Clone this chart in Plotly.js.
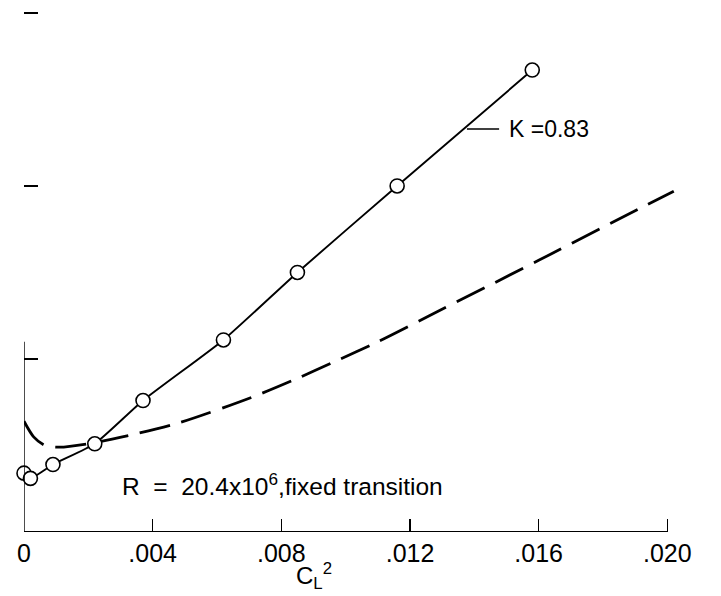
<!DOCTYPE html>
<html>
<head>
<meta charset="utf-8">
<script src="https://cdn.plot.ly/plotly-3.0.1.min.js"></script>
<style>
  html, body { margin: 0; padding: 0; background: #fff; }
  #chart { width: 721px; height: 596px; }
</style>
</head>
<body>
<div id="chart"></div>
<script>
// Measured points (circles) joined by the solid K = 0.83 curve
const cl2Test  = [0.0000, 0.0002, 0.0009, 0.0022, 0.0037, 0.0062, 0.0085, 0.0116, 0.0158];
const dragTest = [0.34, 0.31, 0.39, 0.51, 0.76, 1.11, 1.50, 2.00, 2.67];

// Dashed reference curve
const cl2Ref  = [0.0000, 0.0003, 0.00065, 0.0011, 0.0020, 0.0033, 0.0048, 0.0071, 0.0084, 0.0096, 0.0110, 0.0126, 0.0160, 0.0183, 0.0202];
const dragRef = [0.64, 0.55, 0.50, 0.49, 0.51, 0.56, 0.63, 0.78, 0.88, 0.98, 1.10, 1.25, 1.57, 1.79, 1.97];

// Axis ticks
const xTickVals = [0, 0.004, 0.008, 0.012, 0.016, 0.020];
const xTickText = ['0', '.004', '.008', '.012', '.016', '.020'];
const yTickVals = [1, 2, 3];

const FONT = 'Liberation Sans, Arial, sans-serif';

const traces = [
  {
    x: cl2Ref, y: dragRef,
    mode: 'lines',
    line: { color: '#000', width: 2.8, dash: '31px,12px', shape: 'spline', smoothing: 0.8 },
    hoverinfo: 'skip'
  },
  {
    x: cl2Test, y: dragTest,
    mode: 'lines+markers',
    line: { color: '#000', width: 1.9, shape: 'spline', smoothing: 0.5 },
    marker: { symbol: 'circle', size: 14, color: '#fff', line: { color: '#000', width: 1.6 } },
    cliponaxis: false,
    hoverinfo: 'skip'
  }
];

const layout = {
  width: 721, height: 596,
  margin: { l: 24, r: 44, t: 10, b: 64 },
  paper_bgcolor: '#fff', plot_bgcolor: '#fff',
  showlegend: false,
  font: { family: FONT, color: '#000' },
  xaxis: {
    range: [0, 0.0203],
    showgrid: false, zeroline: false, showline: false,
    tickmode: 'array', tickvals: xTickVals, ticktext: xTickText,
    ticks: 'inside', ticklen: 13, tickwidth: 1.6, tickcolor: '#000',
    tickfont: { family: FONT, size: 25, color: '#000' },
    ticklabelstandoff: 4
  },
  yaxis: {
    range: [0, 3.017],
    showgrid: false, zeroline: false, showline: false,
    tickmode: 'array', tickvals: yTickVals,
    showticklabels: false,
    ticks: 'inside', ticklen: 14, tickwidth: 2, tickcolor: '#000'
  },
  shapes: [
    // x axis line, ending at .020
    { type: 'line', xref: 'x', yref: 'y', x0: 0, x1: 0.020, y0: 0, y1: 0,
      line: { color: '#000', width: 1.8 } },
    // lower part of the y axis line
    { type: 'line', xref: 'x', yref: 'y', x0: 0, x1: 0, y0: 0, y1: 1.10,
      line: { color: '#000', width: 1.4 } },
    // leader line to the K label
    { type: 'line', xref: 'x', yref: 'y', x0: 0.01377, x1: 0.01477, y0: 2.329, y1: 2.329,
      line: { color: '#000', width: 1.4 } }
  ],
  annotations: [
    { xref: 'x', yref: 'y', x: 0.01502, y: 2.329, xanchor: 'left', yanchor: 'middle',
      text: 'K =0.83', showarrow: false, font: { family: FONT, size: 23, color: '#000' } },
    { xref: 'x', yref: 'y', x: 0.00298, y: 0.277, xanchor: 'left', yanchor: 'middle',
      text: 'R  =  20.4x10<sup>6</sup>,fixed transition', showarrow: false,
      font: { family: FONT, size: 24.5, color: '#000' } },
    { xref: 'x', yref: 'paper', x: 0.0090, y: 0, xanchor: 'center', yanchor: 'top', yshift: -25,
      text: 'C<sub>L</sub><sup>2</sup>', showarrow: false,
      font: { family: FONT, size: 24, color: '#000' } }
  ]
};

Plotly.newPlot('chart', traces, layout, { displayModeBar: false, staticPlot: true });
</script>
</body>
</html>
